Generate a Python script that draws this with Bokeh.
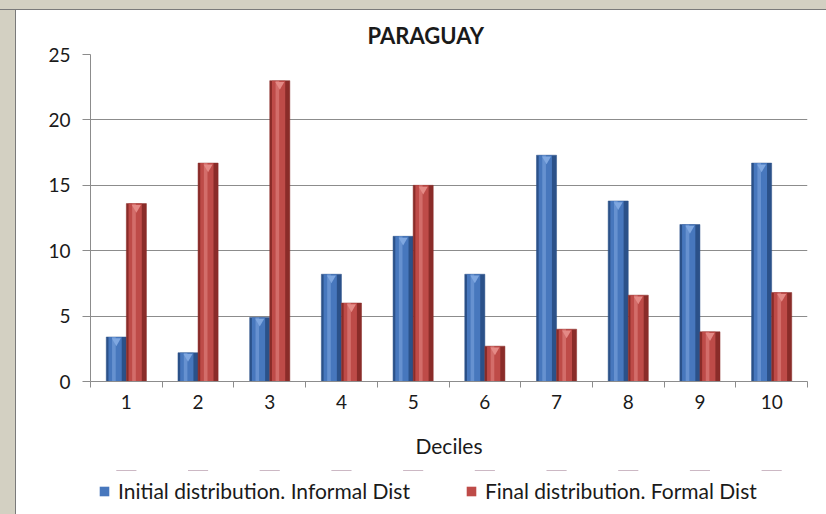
from bokeh.plotting import figure
from bokeh.models import (Range1d, FixedTicker, Legend, LegendItem, ColumnDataSource,
                          Spacer)
from bokeh.layouts import column, row
from bokeh.transform import dodge
from bokeh.embed import file_html
from bokeh.resources import INLINE

deciles = ["1", "2", "3", "4", "5", "6", "7", "8", "9", "10"]
initial = [3.4, 2.2, 4.9, 8.2, 11.1, 8.2, 17.3, 13.8, 12.0, 16.7]
final = [13.6, 16.7, 23.0, 6.0, 15.0, 2.7, 4.0, 6.6, 3.8, 6.8]
y_ticks = [0, 5, 10, 15, 20, 25]
series_names = ["Initial distribution. Informal Dist", "Final distribution. Formal Dist"]
blue = ("#2B5189", "#4777BD", "#7FA7E0")
red = ("#8A2C29", "#BE4B48", "#E48A86")

FONT = "Lato"
INK = "#1a1a1a"
GRAY = "#D3D0C2"
xs = [i + 1 for i in range(len(deciles))]
bounds = [i + 0.5 for i in range(len(deciles) + 1)]

p = figure(frame_width=717, frame_height=327, output_backend="svg", toolbar_location=None,
           x_range=Range1d(0.5, 10.5), y_range=Range1d(0, 25),
           min_border_left=74, min_border_right=19, min_border_top=44,
           min_border_bottom=89)
p.background_fill_color = "white"
p.border_fill_color = "white"
p.outline_line_color = None

p.title.text = "PARAGUAY"
p.title.text_font = FONT
p.title.text_font_style = "bold"
p.title.text_font_size = "22px"
p.title.text_color = INK
p.title.align = "left"
p.title.offset = 277
p.title.standoff = 12

off = 0.14
w = 0.28

def bar(fig, offset, vals, cols):
    dark, mid, light = cols
    src = ColumnDataSource(dict(x=xs, top=vals))
    fig.vbar(x=dodge("x", offset), top="top", width=w, source=src,
             fill_color=dark, line_color=dark, line_width=0.5)
    fig.vbar(x=dodge("x", offset - w * 0.06), top="top", width=w * 0.66, source=src,
             fill_color=mid, line_color=None)
    fig.vbar(x=dodge("x", offset - w * 0.12), top="top", width=w * 0.18, source=src,
             fill_color=light, line_color=None, fill_alpha=0.55)
    fig.scatter(x=dodge("x", offset), y=dodge("top", -0.3), source=src,
                marker="inverted_triangle", size=9, fill_color=light, line_color=None)

bar(p, -off, initial, blue)
bar(p, off, final, red)

p.xgrid.visible = False
p.ygrid.grid_line_color = "#8C8C8C"
p.ygrid.grid_line_width = 1
p.ygrid.ticker = FixedTicker(ticks=y_ticks)

p.yaxis.ticker = FixedTicker(ticks=y_ticks)
p.yaxis.axis_line_color = "#8C8C8C"
p.yaxis.major_tick_line_color = "#8C8C8C"
p.yaxis.major_tick_out = 8
p.yaxis.major_tick_in = 0
p.yaxis.minor_tick_line_color = None
p.yaxis.major_label_text_font = FONT
p.yaxis.major_label_text_font_size = "19px"
p.yaxis.major_label_text_color = INK
p.yaxis.major_label_standoff = 12

p.xaxis.ticker = FixedTicker(ticks=xs, minor_ticks=bounds)
p.xaxis.major_label_overrides = {x: d for x, d in zip(xs, deciles)}
p.xaxis.axis_line_color = "#8C8C8C"
p.xaxis.major_tick_line_color = None
p.xaxis.major_tick_out = 0
p.xaxis.major_tick_in = 0
p.xaxis.minor_tick_line_color = "#8C8C8C"
p.xaxis.minor_tick_out = 6
p.xaxis.minor_tick_in = 0
p.xaxis.major_label_text_font = FONT
p.xaxis.major_label_text_font_size = "19px"
p.xaxis.major_label_text_color = INK
p.xaxis.major_label_standoff = 7
p.xaxis.axis_label = "Deciles"
p.xaxis.axis_label_text_font = FONT
p.xaxis.axis_label_text_font_size = "21px"
p.xaxis.axis_label_text_font_style = "normal"
p.xaxis.axis_label_text_color = INK
p.xaxis.axis_label_standoff = 21

# legend strip below the chart (same frame alignment); its bars lie far outside its y range
lg = figure(frame_width=717, frame_height=44, output_backend="svg", toolbar_location=None,
            x_range=Range1d(0.5, 10.5), y_range=Range1d(-1000, -999),
            x_axis_location=None, y_axis_location=None,
            min_border_left=74, min_border_right=19, min_border_top=0, min_border_bottom=0)
lg.grid.visible = False
lg.outline_line_color = None
lg.background_fill_color = "white"
lg.border_fill_color = "white"
src_b = ColumnDataSource(dict(x=xs, top=initial))
src_r = ColumnDataSource(dict(x=xs, top=final))
r1 = lg.vbar(x="x", top="top", width=w, source=src_b, fill_color=blue[1], line_color=None)
r2 = lg.vbar(x="x", top="top", width=w, source=src_r, fill_color=red[1], line_color=None)
legend = Legend(items=[
    LegendItem(label=series_names[0], renderers=[r1]),
    LegendItem(label=series_names[1], renderers=[r2]),
], orientation="horizontal", location=(8, 11), spacing=55,
   glyph_width=12, glyph_height=12, label_standoff=8, label_height=20,
   label_text_font=FONT, label_text_font_size="21px", label_text_color=INK,
   border_line_color=None, background_fill_alpha=0, margin=0, padding=0)
lg.add_layout(legend, "center")

top_band = Spacer(width=826, height=10, styles={"background-color": GRAY,
                                                "border-bottom": "1px solid #7A7A7A",
                                                "box-sizing": "border-box"})
left_band = Spacer(width=16, height=504, styles={"background-color": GRAY,
                                                 "border-right": "1px solid #7A7A7A",
                                                 "box-sizing": "border-box"})
layout = column(top_band, row(left_band, column(p, lg, spacing=0), spacing=0), spacing=0)

open("out.html", "w").write(file_html(layout, INLINE))
